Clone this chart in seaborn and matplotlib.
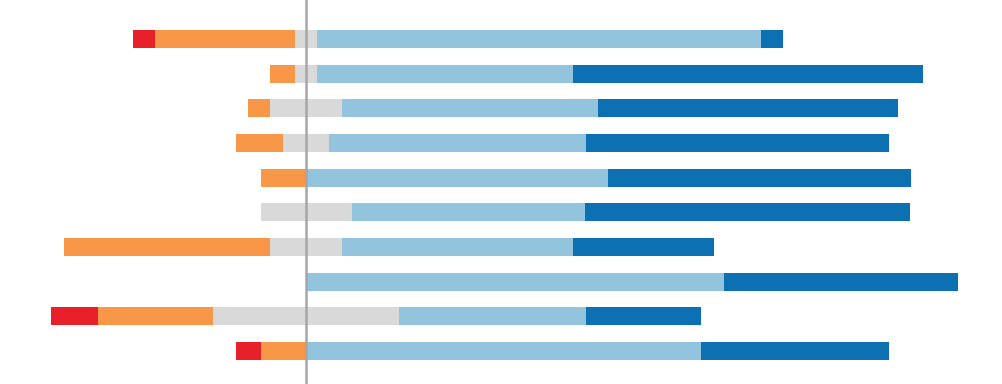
import numpy as np
import pandas as pd
import matplotlib
matplotlib.use("Agg")
import matplotlib.pyplot as plt
import seaborn as sns

# ============================================================
# Data (percent of responses per item)
# ============================================================

items = ["Q1", "Q2", "Q3", "Q4", "Q5", "Q6", "Q7", "Q8", "Q9", "Q10"]

strongly_disagree = [3.4, 0.0, 0.0, 0.0, 0.0, 0.0, 0.0, 0.0, 7.2, 3.8]
disagree = [21.5, 3.8, 3.4, 7.2, 6.9, 0.0, 31.7, 0.0, 17.8, 6.9]
neutral = [3.4, 3.4, 11.1, 7.1, 0.0, 14.0, 11.1, 0.0, 28.5, 0.0]
agree = [68.3, 39.4, 39.4, 39.5, 46.5, 36.0, 35.5, 64.3, 28.8, 60.8]
strongly_agree = [3.4, 53.8, 46.2, 46.6, 46.6, 50.0, 21.7, 36.0, 17.7, 28.9]

colors = {
    "strongly_disagree": "#e8202a",
    "disagree": "#f79747",
    "neutral": "#d9d9d9",
    "agree": "#93c4de",
    "strongly_agree": "#0c70b2",
}

# ============================================================
# Cumulative ends (neutral split around zero)
# ============================================================

df = pd.DataFrame({
    "item": items,
    "sd": strongly_disagree,
    "d": disagree,
    "n": neutral,
    "a": agree,
    "sa": strongly_agree,
})

half = df["n"] / 2

layers = [
    ("sd", -(half + df["d"] + df["sd"]), colors["strongly_disagree"]),
    ("d", -(half + df["d"]), colors["disagree"]),
    ("nl", -half, colors["neutral"]),
    ("sa", half + df["a"] + df["sa"], colors["strongly_agree"]),
    ("a", half + df["a"], colors["agree"]),
    ("nr", half, colors["neutral"]),
]

# ============================================================
# Plot
# ============================================================

sns.set_style("white")

fig = plt.figure(figsize=(10.02, 3.84), dpi=100)
ax = fig.add_axes([0, 0, 1, 1])

for name, ends, col in layers:
    sns.barplot(
        x=ends.values,
        y=df["item"],
        order=items,
        orient="h",
        color=col,
        width=0.52,
        linewidth=0,
        saturation=1,
        ax=ax,
    )

ax.axvline(0, color="#a6a6a6", lw=1.8, zorder=10)

ax.set_xlim(-47.08, 107.08)
ax.set_ylim(9.95, -1.125)
ax.axis("off")

fig.savefig("out.png", dpi=100)
